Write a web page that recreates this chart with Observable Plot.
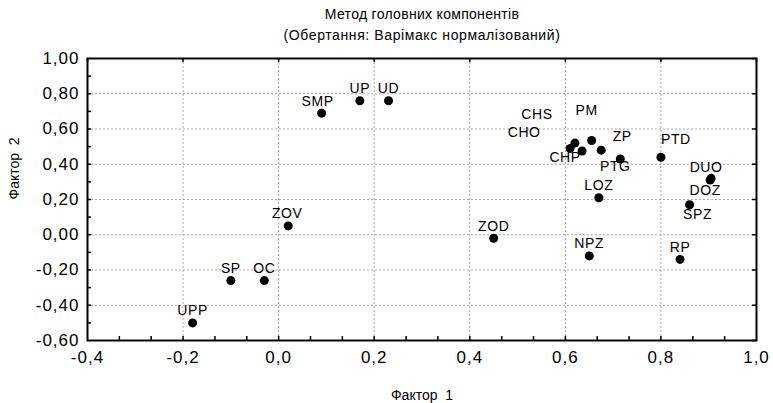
<!DOCTYPE html>
<html>
<head>
<meta charset="utf-8">
<script src="https://cdn.jsdelivr.net/npm/d3@7"></script>
<script src="https://cdn.jsdelivr.net/npm/@observablehq/plot@0.6"></script>
<style>
  body { margin: 0; background: #fff; }
  #chart svg { display: block; }
</style>
</head>
<body>
<div id="chart"></div>
<script>
// Variable names and their loadings on the two rotated factors
const names = ["UPP", "SP", "OC", "ZOV", "SMP", "UP", "UD", "ZOD", "NPZ", "RP", "LOZ",
               "SPZ", "DOZ", "DUO", "PTD", "PTG", "ZP", "PM", "CHP", "CHO", "CHS"];
const factor1 = [-0.18, -0.10, -0.03, 0.02, 0.09, 0.17, 0.23, 0.45, 0.65, 0.84, 0.67,
                 0.86, 0.903, 0.905, 0.80, 0.715, 0.675, 0.655, 0.635, 0.61, 0.62];
const factor2 = [-0.50, -0.26, -0.26, 0.05, 0.69, 0.76, 0.76, -0.02, -0.12, -0.14, 0.21,
                 0.17, 0.31, 0.32, 0.44, 0.43, 0.48, 0.535, 0.475, 0.49, 0.52];

// Axis ticks
const xTicks = [-0.4, -0.2, 0.0, 0.2, 0.4, 0.6, 0.8, 1.0];
const yTicks = [-0.6, -0.4, -0.2, 0.0, 0.2, 0.4, 0.6, 0.8, 1.0];
const xMinorTicks = d3.range(1, 21).map(i => -0.4 + i * 1.4 / 21);
const yMinorTicks = d3.range(1, 16).map(i => -0.6 + i * 0.1);

// Texts
const titleLines = ["Метод головних компонентів", "(Обертання: Варімакс нормалізований)"];
const xTitle = "Фактор\u00a0\u00a01";
const yTitle = "Фактор\u00a0\u00a02";

// Where each point label sits relative to its dot (px); others go straight above
const labelOffsets = {
  CHS: [-38, -29], CHO: [-46, -16], CHP: [-17, 6], PM: [-5, -30], ZP: [21, -14],
  PTG: [-5, 8], PTD: [15, -18], DUO: [-5, -11], DOZ: [-5, 10], SPZ: [8, 10],
  SMP: [-4, -12], ZOV: [-1, -12]
};

const points = names.map((name, i) => ({name, f1: factor1[i], f2: factor2[i]}));

const W = 773, H = 403;
const mT = 58, mB = 63, mL = 87, mR = 17;
const frameW = W - mL - mR, frameH = H - mT - mB;
const font = "'Liberation Sans', Arial, sans-serif";
const fmtX = d => d.toFixed(1).replace(".", ",");
const fmtY = d => d.toFixed(2).replace(".", ",");
const gridStyle = {stroke: "#a8a8a8", strokeOpacity: 1, strokeWidth: 1, strokeDasharray: "2,2"};

const labelMarks = names.map(name => {
  const [dx, dy] = labelOffsets[name] || [0, -12];
  return Plot.text(points.filter(p => p.name === name), {
    x: "f1", y: "f2", text: "name", dx, dy, fontSize: 14, fill: "black",
    lineAnchor: "middle", ariaDescription: "point-label"
  });
});

const chart = Plot.plot({
  width: W, height: H,
  marginTop: mT, marginBottom: mB, marginLeft: mL, marginRight: mR,
  // tick labels take the base font size
  style: {fontFamily: font, fontSize: "17px", color: "black", background: "white"},
  x: {domain: [-0.4, 1.0]},
  y: {domain: [-0.6, 1.0]},
  marks: [
    Plot.gridX(xTicks.slice(1, -1), gridStyle),
    Plot.gridY(yTicks.slice(1, -1), gridStyle),
    Plot.axisX(xTicks, {tickSize: 0, tickPadding: 10, tickFormat: fmtX, label: null}),
    Plot.axisY(yTicks, {tickSize: 0, tickPadding: 8, tickFormat: fmtY, label: null}),
    // inward tick marks: minor on bottom and left, major on top and right
    Plot.tickX(xMinorTicks, {x: d => d, insetTop: frameH - 4, stroke: "black", strokeWidth: 1.5}),
    Plot.tickX(xTicks, {x: d => d, insetBottom: frameH - 4, stroke: "black", strokeWidth: 1.5}),
    Plot.tickY(yMinorTicks, {y: d => d, insetRight: frameW - 4, stroke: "black", strokeWidth: 1.5}),
    Plot.tickY(yTicks, {y: d => d, insetLeft: frameW - 4, stroke: "black", strokeWidth: 1.5}),
    Plot.frame({stroke: "black", strokeWidth: 2}),
    Plot.dot(points, {x: "f1", y: "f2", r: 4.5, fill: "black", stroke: "none"}),
    ...labelMarks,
    Plot.text([titleLines[0]], {text: d => d, frameAnchor: "top", lineAnchor: "middle",
      dy: -44, fontSize: 14, ariaDescription: "title-1"}),
    Plot.text([titleLines[1]], {text: d => d, frameAnchor: "top", lineAnchor: "middle",
      dy: -23, fontSize: 14, ariaDescription: "title-2"}),
    Plot.text([xTitle], {text: d => d, frameAnchor: "bottom", lineAnchor: "middle",
      dy: 55, fontSize: 14}),
    Plot.text([yTitle], {text: d => d, frameAnchor: "left", lineAnchor: "middle",
      dx: -73, rotate: -90, fontSize: 14})
  ]
});

// letter spacing per text group
const svg = d3.select(chart);
svg.selectAll('g[aria-label$="tick label"]').attr("letter-spacing", "1px");
svg.selectAll('g[aria-description="point-label"]').attr("letter-spacing", "0.6px");
svg.selectAll('g[aria-description="title-1"]').attr("letter-spacing", "0.3px");
svg.selectAll('g[aria-description="title-2"]').attr("letter-spacing", "0.6px");

document.getElementById("chart").appendChild(chart);
</script>
</body>
</html>
